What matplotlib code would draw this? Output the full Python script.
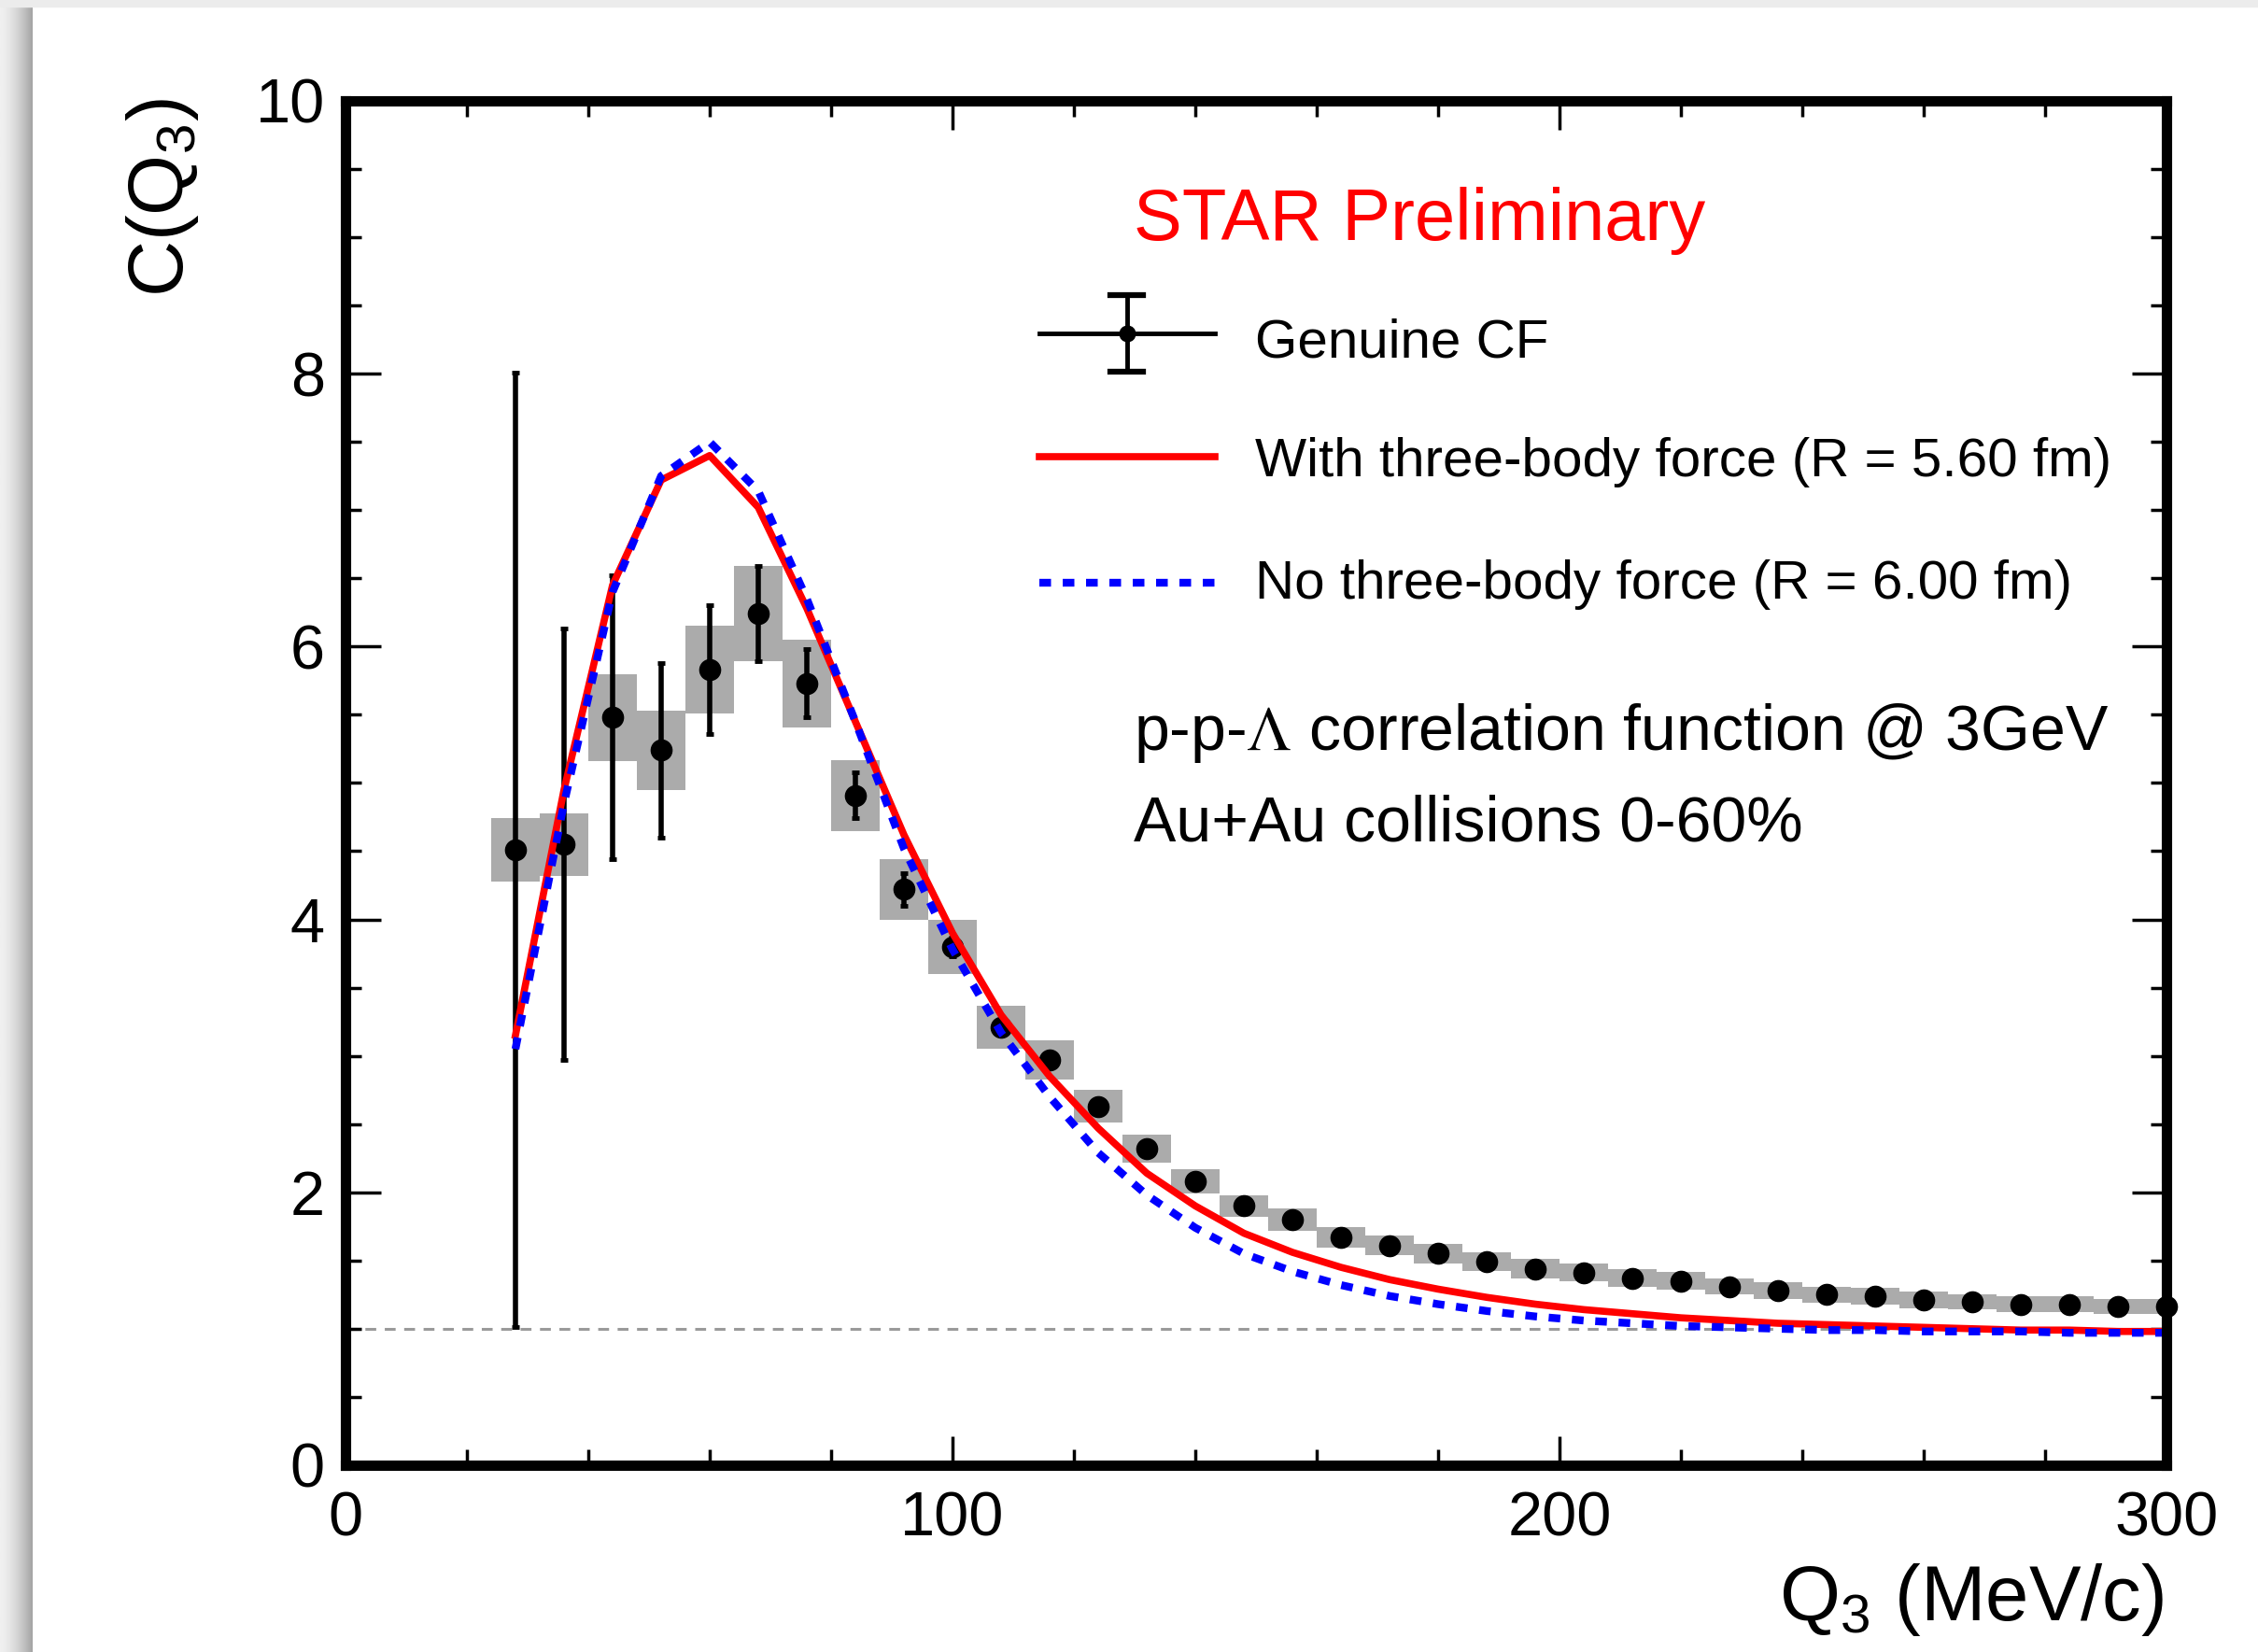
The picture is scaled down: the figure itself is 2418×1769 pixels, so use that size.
import numpy as np
import matplotlib.pyplot as plt
from matplotlib.patches import Rectangle
from matplotlib.ticker import MultipleLocator

plt.rcParams['font.family'] = ['Liberation Sans', 'DejaVu Sans']
plt.rcParams['mathtext.fontset'] = 'custom'
plt.rcParams['mathtext.rm'] = 'Liberation Sans'
plt.rcParams['mathtext.it'] = 'Liberation Sans'
plt.rcParams['mathtext.bf'] = 'Liberation Sans:bold'

# Q3 bin centres (MeV/c)
q3 = [28, 36, 44, 52, 60, 68, 76, 84, 92, 100, 108, 116, 124, 132, 140, 148,
      156, 164, 172, 180, 188, 196, 204, 212, 220, 228, 236, 244, 252, 260,
      268, 276, 284, 292, 300]

# genuine correlation function (data)
cf = [4.51, 4.55, 5.48, 5.24, 5.83, 6.24, 5.73, 4.91, 4.22, 3.80, 3.21, 2.97,
      2.63, 2.32, 2.08, 1.90, 1.80, 1.67, 1.61, 1.55, 1.49, 1.44, 1.41, 1.37,
      1.35, 1.31, 1.28, 1.25, 1.24, 1.21, 1.20, 1.18, 1.18, 1.16, 1.16]
stat_err = [3.50, 1.58, 1.04, 0.64, 0.47, 0.35, 0.25, 0.17, 0.12, 0.07, 0.05,
            0.04, 0.03, 0.03, 0.02, 0.02, 0.02, 0.02, 0.02, 0.02, 0.02, 0.02,
            0.02, 0.02, 0.02, 0.02, 0.02, 0.02, 0.02, 0.02, 0.02, 0.02, 0.02,
            0.02, 0.02]
sys_err = [0.23, 0.23, 0.32, 0.29, 0.32, 0.35, 0.32, 0.26, 0.22, 0.20, 0.16,
           0.145, 0.12, 0.105, 0.09, 0.08, 0.08, 0.075, 0.07, 0.07, 0.07, 0.07,
           0.065, 0.065, 0.065, 0.06, 0.06, 0.06, 0.06, 0.06, 0.055, 0.055,
           0.055, 0.055, 0.055]

# model curves
with_3bf = [3.15, 4.95, 6.45, 7.22, 7.40, 7.02, 6.28, 5.45, 4.62, 3.90, 3.30,
            2.85, 2.47, 2.14, 1.90, 1.70, 1.56, 1.45, 1.36, 1.29, 1.23, 1.18,
            1.14, 1.11, 1.08, 1.06, 1.04, 1.03, 1.02, 1.01, 1.00, 0.99, 0.99,
            0.98, 0.98]
no_3bf = [3.05, 4.85, 6.40, 7.25, 7.50, 7.14, 6.35, 5.45, 4.52, 3.78, 3.17,
          2.70, 2.29, 1.98, 1.74, 1.55, 1.42, 1.32, 1.24, 1.18, 1.13, 1.09,
          1.06, 1.04, 1.02, 1.01, 1.00, 0.99, 0.99, 0.98, 0.98, 0.98, 0.97,
          0.97, 0.97]

fig = plt.figure(figsize=(24.18, 17.69), dpi=100)
fig.patch.set_facecolor('white')

# slide-like frame: grey strip on top, shadow at left
fig.patches.append(Rectangle((0, 1 - 7 / 1769), 1, 7 / 1769,
                             transform=fig.transFigure, color='#ececec', zorder=0))
sh = fig.add_axes([0, 0, 35 / 2418, 1 - 7 / 1769])
t = np.linspace(0, 1, 64)
shade = 0.94 - 0.30 * t ** 1.6
sh.imshow(shade.reshape(1, -1), cmap='gray', vmin=0, vmax=1, aspect='auto')
sh.axis('off')

ax = fig.add_axes([0.1530, 0.1131, 0.8065, 0.8259])

cf_a = np.array(cf)
sys_a = np.array(sys_err)

ax.axhline(1.0, color='#9a9a9a', lw=2.2, ls=(0, (3.8, 3)), zorder=1)
ax.bar(q3, 2 * sys_a, bottom=cf_a - sys_a, width=8, color='#ababab',
       edgecolor='none', zorder=2)
ax.errorbar(q3, cf, yerr=stat_err, fmt='o', color='black', ms=16,
            elinewidth=4, capsize=3, capthick=3.5, zorder=3, clip_on=False)
ax.plot(q3, with_3bf, color='red', lw=5.5, zorder=4)
ax.plot(q3, no_3bf, color='blue', lw=6, ls=(0, (1.5, 1.5)), zorder=5)

ax.set_xlim(0, 300)
ax.set_ylim(0, 10)
ax.set_xticks([0, 100, 200, 300])
ax.set_yticks([0, 2, 4, 6, 8, 10])
ax.xaxis.set_minor_locator(MultipleLocator(20))
ax.yaxis.set_minor_locator(MultipleLocator(0.5))
ax.tick_params(which='both', direction='in', top=True, right=True, width=2.5)
ax.tick_params(axis='x', which='major', length=22, pad=20, labelsize=48)
ax.tick_params(axis='y', which='major', length=27, pad=16, labelsize=48)
ax.tick_params(which='minor', length=12)
for s in ax.spines.values():
    s.set_linewidth(8)
    s.set_zorder(6)

# axis titles
ax.text(0.9985, -0.1136, r'Q$_3$ (MeV/c)', fontsize=60, ha='right',
        va='baseline', transform=ax.transAxes)
ax.text(-0.0892, 1.002, r'C(Q$_3$)', fontsize=60, rotation=90,
        rotation_mode='anchor', ha='right', va='baseline', transform=ax.transAxes)

# labels
ax.text(0.433, 0.8977, 'STAR Preliminary', color='red', fontsize=56,
        transform=ax.transAxes)

# legend, drawn by hand in axes coordinates
lx = [0.381, 0.4775]
ax.plot(lx, [0.8295, 0.8295], color='black', lw=3.5, transform=ax.transAxes, clip_on=False)
ax.plot([0.429, 0.429], [0.8017, 0.8576], color='black', lw=3.5, transform=ax.transAxes, clip_on=False)
ax.plot([0.420, 0.438], [0.8017, 0.8017], color='black', lw=4.5, transform=ax.transAxes, clip_on=False)
ax.plot([0.420, 0.438], [0.8576, 0.8576], color='black', lw=4.5, transform=ax.transAxes, clip_on=False)
ax.plot([0.429], [0.8295], 'o', color='black', ms=12, transform=ax.transAxes, clip_on=False)
ax.plot(lx, [0.7395, 0.7395], color='red', lw=5.5, transform=ax.transAxes, clip_on=False)
ax.plot(lx, [0.6466, 0.6466], color='blue', lw=6, ls=(0, (1.5, 1.5)),
        transform=ax.transAxes, clip_on=False)

ax.text(0.4996, 0.8122, 'Genuine CF', fontsize=42, transform=ax.transAxes)
ax.text(0.4996, 0.7247, 'With three-body force (R = 5.60 fm)', fontsize=42,
        transform=ax.transAxes)
ax.text(0.4996, 0.635, 'No three-body force (R = 6.00 fm)', fontsize=42,
        transform=ax.transAxes)

ax.text(0.433, 0.5243, r'p-p-$\Lambda$ correlation function @ 3GeV', fontsize=49,
        math_fontfamily='stix', transform=ax.transAxes)
ax.text(0.433, 0.4578, 'Au+Au collisions 0-60%', fontsize=49,
        transform=ax.transAxes)

fig.savefig('out.png', dpi=100)
